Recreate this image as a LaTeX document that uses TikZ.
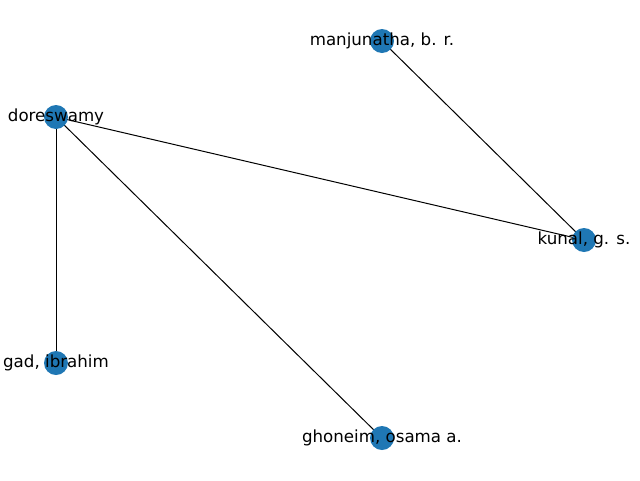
\documentclass[tikz,border=0pt]{standalone}
\usepackage{fontspec}
\setmainfont{DejaVu Sans}
\usetikzlibrary{backgrounds}
\definecolor{nodeblue}{HTML}{1F77B4}
\begin{document}
\begin{tikzpicture}[x=1pt,y=-1pt,
  vert/.style={circle,fill=nodeblue,minimum size=24pt,inner sep=0pt},
  lab/.style={font=\fontsize{16.67pt}{20pt}\selectfont,text=black,inner sep=0pt},
  edge/.style={draw=black,line width=1pt}]
\useasboundingbox (0,0) rectangle (640,480);
\node[vert] (m) at (382,41) {};
\node[vert] (d) at (56,117) {};
\node[vert] (k) at (584,240) {};
\node[vert] (g) at (56,363) {};
\node[vert] (o) at (382,438) {};
\begin{scope}[on background layer]
\draw[edge] (m.center) -- (k.center);
\draw[edge] (d.center) -- (k.center);
\draw[edge] (d.center) -- (g.center);
\draw[edge] (d.center) -- (o.center);
\end{scope}
\node[lab] (lm) at (m) {manjunatha, b. r.};
\node[lab] (ld) at (d) {doreswamy};
\node[lab] (lk) at (k) {kunal, g. s.};
\node[lab] (lg) at (g) {gad, ibrahim};
\node[lab] (lo) at (o) {ghoneim, osama a.};
\end{tikzpicture}
\end{document}
